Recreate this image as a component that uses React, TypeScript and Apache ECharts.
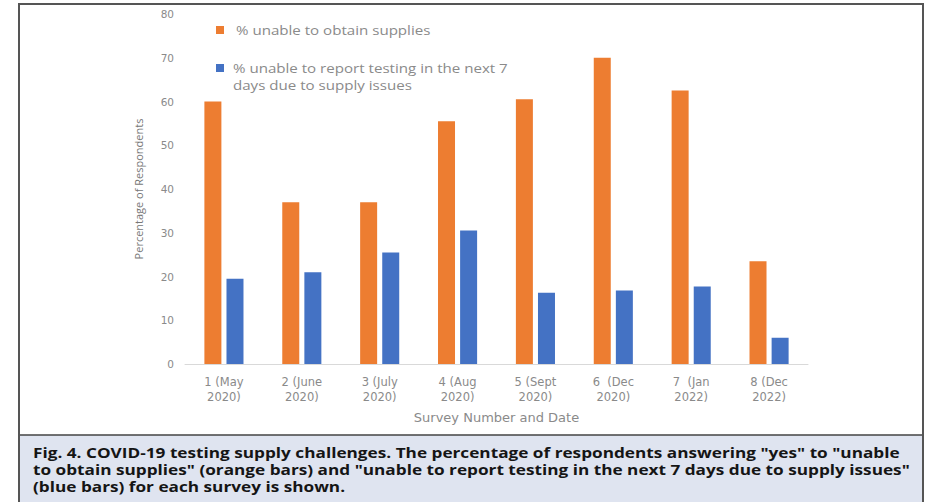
import React, { useEffect, useRef } from "react";
import * as echarts from "echarts";

const categories = [
  "1 (May\n2020)",
  "2 (June\n2020)",
  "3 (July\n2020)",
  "4 (Aug\n2020)",
  "5 (Sept\n2020)",
  "6  (Dec\n2020)",
  "7  (Jan\n2022)",
  "8 (Dec\n2022)",
];
const unableToObtain = [60, 37, 37, 55.5, 60.5, 70, 62.5, 23.5];
const unableToReport = [19.5, 21, 25.5, 30.5, 16.3, 16.8, 17.7, 6];
const seriesNames = [
  "% unable to obtain supplies",
  "% unable to report testing in the next 7 days due to supply issues",
];
const captionLines = [
  'Fig. 4. COVID-19 testing supply challenges. The percentage of respondents answering "yes" to "unable',
  'to obtain supplies" (orange bars) and "unable to report testing in the next 7 days due to supply issues"',
  "(blue bars) for each survey is shown.",
];

const ORANGE = "#ED7D31";
const BLUE = "#4472C4";
const GREY = "#8a8a8a";

export default function App() {
  const ref = useRef<HTMLDivElement>(null);
  useEffect(() => {
    if (!ref.current) return;
    const chart = echarts.init(ref.current, undefined, { renderer: "svg" });
    chart.setOption({
      animation: false,
      backgroundColor: "#ffffff",
      textStyle: { fontFamily: "DejaVu Sans" },
      grid: { left: 185, right: 126, top: 14, bottom: 138, containLabel: false },
      xAxis: {
        type: "category",
        data: categories,
        name: "Survey Number and Date",
        nameLocation: "middle",
        nameGap: 47,
        nameTextStyle: { color: GREY, fontSize: 13, fontFamily: "DejaVu Sans" },
        axisLine: { lineStyle: { color: "#d9d9d9", width: 1 } },
        axisTick: { show: false },
        axisLabel: {
          color: GREY,
          fontSize: 11.5,
          lineHeight: 15,
          margin: 10,
          interval: 0,
          fontFamily: "DejaVu Sans",
        },
      },
      yAxis: {
        type: "value",
        min: 0,
        max: 80,
        interval: 10,
        name: "Percentage of Respondents",
        nameLocation: "middle",
        nameGap: 41,
        nameTextStyle: { color: "#777", fontSize: 11, fontFamily: "Liberation Sans Narrow, Open Sans" },
        axisLine: { show: false },
        axisTick: { show: false },
        splitLine: { show: false },
        axisLabel: { color: GREY, fontSize: 10.5, margin: 11, fontFamily: "DejaVu Sans" },
      },
      series: [
        {
          name: seriesNames[0],
          type: "bar",
          data: unableToObtain,
          barWidth: 17,
          barGap: "30%",
          itemStyle: { color: ORANGE },
        },
        {
          name: seriesNames[1],
          type: "bar",
          data: unableToReport,
          barWidth: 17,
          itemStyle: { color: BLUE },
        },
      ],
      graphic: [
        {
          type: "rect",
          shape: { x: 19, y: 4, width: 904, height: 520 },
          style: { fill: "none", stroke: "#555", lineWidth: 2 },
          z: 10,
        },
        {
          type: "rect",
          shape: { x: 19, y: 435, width: 904, height: 80 },
          style: { fill: "#dfe4f0", stroke: "#444", lineWidth: 1.5 },
          z: 5,
        },
        {
          type: "rect",
          shape: { x: 216, y: 26, width: 8, height: 8 },
          style: { fill: ORANGE },
          z: 6,
        },
        {
          type: "text",
          x: 236,
          y: 30,
          scaleX: 1.26,
          style: {
            text: seriesNames[0],
            fill: GREY,
            fontSize: 12,
            fontFamily: "Open Sans",
            verticalAlign: "middle",
          },
          z: 6,
        },
        {
          type: "rect",
          shape: { x: 216, y: 64, width: 8, height: 8 },
          style: { fill: BLUE },
          z: 6,
        },
        {
          type: "text",
          x: 233,
          y: 60,
          scaleX: 1.26,
          style: {
            text: "% unable to report testing in the next 7\ndays due to supply issues",
            fill: GREY,
            fontSize: 12,
            lineHeight: 17,
            fontFamily: "Open Sans",
            verticalAlign: "top",
          },
          z: 6,
        },
        {
          type: "text",
          x: 33,
          y: 444,
          scaleX: 1.275,
          style: {
            text: captionLines.join("\n"),
            fill: "#151515",
            fontSize: 13.5,
            fontWeight: "bold",
            lineHeight: 17,
            fontFamily: "Open Sans",
            verticalAlign: "top",
          },
          z: 7,
        },
      ],
    });
    return () => chart.dispose();
  }, []);
  return (
    <div
      ref={ref}
      style={{ position: "fixed", left: 0, top: 0, width: 934, height: 502 }}
    />
  );
}
